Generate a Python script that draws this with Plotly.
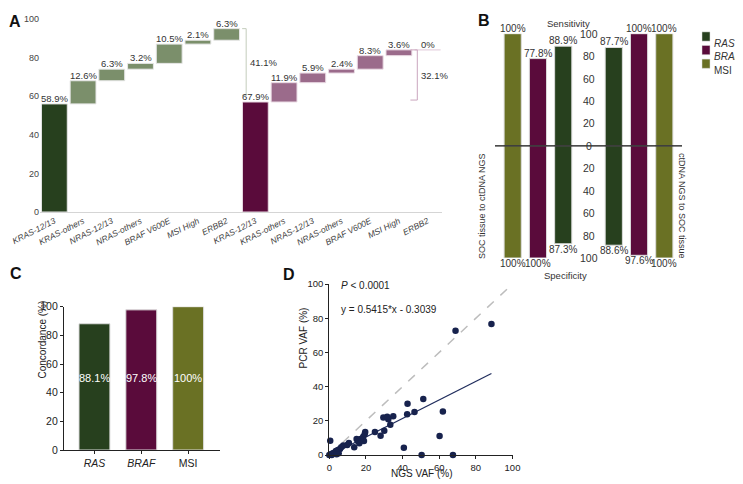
import plotly.graph_objects as go

# The page body keeps an 8px margin, so the figure is placed and sized to fit inside it
OFF = 8
W, H = 743 - OFF, 484 - OFF
FONT = "Arial, Liberation Sans, sans-serif"

def PX(x):
    return (x - OFF) / W

def PY(y):
    return 1 - (y - OFF) / H

# ---------------- Panel A data ----------------
a_categories = ["KRAS-12/13", "KRAS-others", "NRAS-12/13", "NRAS-others",
                "BRAF V600E", "MSI High", "ERBB2"]
a_tissue_counts = [56, 12, 6, 3, 10, 2, 6]
a_tissue_labels = ["58.9%", "12.6%", "6.3%", "3.2%", "10.5%", "2.1%", "6.3%"]
a_ctdna_counts = [57, 10, 5, 2, 7, 3, 0]
a_ctdna_labels = ["67.9%", "11.9%", "5.9%", "2.4%", "8.3%", "3.6%", "0%"]
a_bracket_labels = ["41.1%", "32.1%"]
a_yticks = [0, 20, 40, 60, 80, 100]

# ---------------- Panel B data ----------------
b_series = ["RAS", "BRAF", "MSI"]
b_left_order = ["MSI", "BRAF", "RAS"]
b_left_sensitivity = [100, 77.8, 88.9]
b_left_specificity = [100, 100, 87.3]
b_right_order = ["RAS", "BRAF", "MSI"]
b_right_sensitivity = [87.7, 100, 100]
b_right_specificity = [88.6, 97.6, 100]
b_axis_ticks = [100, 80, 60, 40, 20, 0, 20, 40, 60, 80, 100]

# ---------------- Panel C data ----------------
c_categories = ["RAS", "BRAF", "MSI"]
c_concordance = [88.1, 97.8, 100]

# ---------------- Panel D data ----------------
d_ngs_vaf = [0.5, 88.5, 68.9, 51.3, 42.7, 42.5, 46.5, 62.0, 60.2, 40.7, 50.4, 67.5,
             34.9, 32.2, 29.5, 31.6, 33.3, 30.0, 28.0, 24.9, 19.6, 19.3, 18.5, 18.9,
             17.1, 15.5, 14.9, 16.4, 13.6, 10.7, 9.8, 7.6, 6.5, 5.8, 4.7, 5.1, 3.6,
             2.2, 1.1, 0.0, 1.3, 4.0]
d_pcr_vaf = [8.4, 76.6, 72.7, 32.7, 30.0, 23.8, 25.1, 25.5, 11.1, 4.3, 0.0, 0.0,
             22.6, 20.9, 22.0, 22.4, 17.7, 14.2, 11.3, 13.5, 13.5, 12.1, 10.7, 8.2,
             9.4, 8.2, 9.4, 6.8, 4.5, 7.0, 5.8, 5.5, 4.5, 3.5, 2.9, 1.0, 2.3,
             1.2, 0.6, 0.0, 0.0, 0.4]
d_slope = 0.5415
d_intercept = -0.3039
d_ticks = [0, 20, 40, 60, 80, 100]

COL = {"RAS": "#27401e", "BRAF": "#5a0b3b", "MSI": "#6a7124"}
A_COL1 = ["#27401e"] + ["#7b8f6b"] * 6
A_COL2 = ["#5a0b3b"] + ["#9b6b8b"] * 6

fig = go.Figure()
ann = []
shapes = []

# ---------------- Panel A ----------------
def waterfall(counts):
    bases, tops = [], []
    run = 0
    for c in counts:
        bases.append(run)
        run += c
        tops.append(run)
    return bases, tops

b1, t1 = waterfall(a_tissue_counts)
b2, t2 = waterfall(a_ctdna_counts)
x1 = list(range(7))
x2 = list(range(7, 14))
fig.add_trace(go.Bar(x=x1, y=a_tissue_counts, base=b1, width=0.9,
                     marker=dict(color=A_COL1, line=dict(color="#e6e6e6", width=1)),
                     xaxis="x", yaxis="y", showlegend=False))
fig.add_trace(go.Bar(x=x2, y=a_ctdna_counts, base=b2, width=0.9,
                     marker=dict(color=A_COL2, line=dict(color="#eadbe4", width=1)),
                     xaxis="x", yaxis="y", showlegend=False))
for xs, tops, labels in ((x1, t1, a_tissue_labels), (x2, t2, a_ctdna_labels)):
    for x, t, lab in zip(xs, tops, labels):
        ann.append(dict(x=x, y=t, xref="x", yref="y", text=lab, showarrow=False,
                        yanchor="bottom", yshift=-2,
                        font=dict(family=FONT, size=9.5, color="#333")))

# brackets
br = [(6.68, t1[-1], 60.5, 0.14, "#c3ccbb", a_bracket_labels[0], 77.5),
      (12.64, t2[-1], 58.0, 0.24, "#caa6be", a_bracket_labels[1], 70.5)]
for bx, ytop, ybot, tick, col, lab, ylab in br:
    shapes.append(dict(type="line", xref="x", yref="y", x0=bx, x1=bx, y0=ytop, y1=ybot,
                       line=dict(color=col, width=1)))
    shapes.append(dict(type="line", xref="x", yref="y", x0=bx - tick, x1=bx, y0=ytop, y1=ytop,
                       line=dict(color=col, width=1)))
    shapes.append(dict(type="line", xref="x", yref="y", x0=bx - tick, x1=bx, y0=ybot, y1=ybot,
                       line=dict(color=col, width=1)))
    ann.append(dict(x=bx + 0.05, y=ylab, xref="x", yref="y", text=lab, showarrow=False,
                    xanchor="left", font=dict(family=FONT, size=9.5, color="#333")))

# ---------------- Panel B ----------------
def b_bars(order, slots, sens, spec):
    for name, s, v_up, v_dn in zip(order, slots, sens, spec):
        fig.add_trace(go.Bar(x=[s, s], y=[v_up, -v_dn], width=0.68,
                             marker=dict(color=COL[name], line=dict(color="#dcdcdc", width=1)),
                             xaxis="x2", yaxis="y2", showlegend=False))
        ann.append(dict(x=s, y=v_up, xref="x2", yref="y2", text=f"{v_up:g}%", showarrow=False,
                        yanchor="bottom", yshift=-2, font=dict(family=FONT, size=10, color="#333")))
        ann.append(dict(x=s, y=-v_dn, xref="x2", yref="y2", text=f"{v_dn:g}%", showarrow=False,
                        yanchor="top", yshift=2, font=dict(family=FONT, size=10, color="#333")))

b_bars(b_left_order, [0, 1, 2], b_left_sensitivity, b_left_specificity)
b_bars(b_right_order, [4, 5, 6], b_right_sensitivity, b_right_specificity)
for i, t in enumerate(b_axis_ticks):
    yv = t if i < 5 else (-t if i > 5 else 0)
    ann.append(dict(x=3, y=yv, xref="x2", yref="y2", text=str(t), showarrow=False,
                    font=dict(family=FONT, size=10.5, color="#333")))
shapes.append(dict(type="line", xref="x2", yref="y2", x0=-0.7, x1=6.7, y0=0, y1=0,
                   line=dict(color="#111", width=1.3), layer="above"))
ann.append(dict(x=PX(592), y=PY(16), xref="paper", yref="paper", text="Sensitivity",
                showarrow=False, font=dict(family=FONT, size=9.5, color="#333")))
ann.append(dict(x=PX(589), y=PY(275), xref="paper", yref="paper", text="Specificity",
                showarrow=False, font=dict(family=FONT, size=9.5, color="#333")))
ann.append(dict(x=PX(482), y=PY(151), xref="paper", yref="paper", text="SOC tissue to ctDNA NGS",
                textangle=-90, showarrow=False, font=dict(family=FONT, size=9, color="#333")))
ann.append(dict(x=PX(689), y=PY(151), xref="paper", yref="paper", text="ctDNA NGS to SOC tissue",
                textangle=90, showarrow=False, font=dict(family=FONT, size=9, color="#333")))
# legend
for i, name in enumerate(b_series):
    yc = 36.5 + i * 13.6
    shapes.append(dict(type="rect", xref="paper", yref="paper", x0=PX(702), x1=PX(710),
                       y0=PY(yc - 4.6), y1=PY(yc + 4.6), fillcolor=COL[name],
                       line=dict(color="#dcdcdc", width=0.5)))
    txt = name if name == "MSI" else f"<i>{name}</i>"
    ann.append(dict(x=PX(712.5), y=PY(yc), xref="paper", yref="paper", text=txt, xanchor="left",
                    showarrow=False, borderpad=0, font=dict(family=FONT, size=10, color="#333")))

# ---------------- Panel C ----------------
for i, (name, v) in enumerate(zip(c_categories, c_concordance)):
    fig.add_trace(go.Bar(x=[i], y=[v], width=0.66,
                         marker=dict(color=COL[name], line=dict(color="#dcdcdc", width=1)),
                         xaxis="x3", yaxis="y3", showlegend=False))
    ann.append(dict(x=i, y=50, xref="x3", yref="y3", text=f"{v:g}%", showarrow=False,
                    font=dict(family=FONT, size=11, color="white")))
ann.append(dict(x=PX(35), y=PY(380), xref="paper", yref="paper", text="Concordance (%)",
                textangle=-90, showarrow=False, borderpad=0,
                font=dict(family=FONT, size=10, color="#222")))

# ---------------- Panel D ----------------
fig.add_trace(go.Scatter(x=[0, 100], y=[0, 100], mode="lines",
                         line=dict(color="#bdbdbd", width=1.5, dash="dash"),
                         xaxis="x4", yaxis="y4", showlegend=False))
xmax = max(d_ngs_vaf)
fig.add_trace(go.Scatter(x=[0, xmax], y=[d_intercept, d_slope * xmax + d_intercept],
                         mode="lines", line=dict(color="#1f2c5c", width=1.2),
                         xaxis="x4", yaxis="y4", showlegend=False))
fig.add_trace(go.Scatter(x=d_ngs_vaf, y=d_pcr_vaf, mode="markers",
                         marker=dict(color="#17224d", size=6.5),
                         cliponaxis=False, xaxis="x4", yaxis="y4", showlegend=False))
ann.append(dict(x=5.5, y=99, xref="x4", yref="y4", text="<i>P</i> < 0.0001", xanchor="left",
                showarrow=False, font=dict(family=FONT, size=10, color="#222")))
ann.append(dict(x=5.5, y=85, xref="x4", yref="y4",
                text=f"y = {d_slope}*x - {abs(d_intercept)}", xanchor="left",
                showarrow=False, font=dict(family=FONT, size=10, color="#222")))
ann.append(dict(x=PX(421), y=PY(479.5), xref="paper", yref="paper", text="NGS VAF (%)",
                showarrow=False, borderpad=0, font=dict(family=FONT, size=10, color="#222")))
ann.append(dict(x=PX(303), y=PY(370), xref="paper", yref="paper", text="PCR VAF (%)",
                textangle=-90, showarrow=False, borderpad=0,
                font=dict(family=FONT, size=10, color="#222")))

# panel letters
for letter, lx, ly in (("A", 7, 11), ("B", 484, 10), ("C", 8, 273), ("D", 289, 274)):
    ann.append(dict(x=PX(lx), y=PY(ly), xref="paper", yref="paper", text=f"<b>{letter}</b>",
                    showarrow=False, font=dict(family=FONT, size=16, color="#111")))

tickfont_small = dict(family=FONT, size=9, color="#444")
axis_black = dict(showline=True, linecolor="#222", linewidth=1.3, ticks="outside",
                  ticklen=3, tickwidth=1.3, tickcolor="#222", showgrid=False, zeroline=False)

fig.update_layout(
    width=W, height=H, margin=dict(l=0, r=0, t=0, b=0, pad=0, autoexpand=False),
    paper_bgcolor="white", plot_bgcolor="white", barmode="overlay",
    font=dict(family=FONT, color="#333"),
    annotations=ann, shapes=shapes, showlegend=False,
    # A
    xaxis=dict(domain=[PX(40), PX(442)], range=[-0.5, 13.5], anchor="y",
               tickvals=list(range(14)),
               ticktext=[f"<i>{c}</i>" for c in a_categories * 2],
               tickangle=-27, tickfont=dict(family=FONT, size=8.5, color="#444"),
               showline=True, linecolor="#d5d5d5", linewidth=1, ticks="",
               showgrid=False, zeroline=False, fixedrange=True),
    yaxis=dict(domain=[PY(212), PY(19)], range=[0, 100], anchor="x",
               tickvals=a_yticks, tickfont=tickfont_small, showline=False,
               showgrid=False, zeroline=False, ticks=""),
    # B
    xaxis2=dict(domain=[PX(495), PX(682)], range=[-0.7, 6.7], anchor="y2", visible=False),
    yaxis2=dict(domain=[PY(258), PY(33.7)], range=[-100, 100], anchor="x2", visible=False),
    # C
    xaxis3=dict(domain=[PX(64), PX(220)], range=[-0.65, 2.68], anchor="y3",
                tickvals=[0, 1, 2],
                ticktext=[c if c == "MSI" else f"<i>{c}</i>" for c in c_categories],
                tickfont=dict(family=FONT, size=10.5, color="#222"), **axis_black),
    yaxis3=dict(domain=[PY(450), PY(306.7)], range=[0, 100], anchor="x3",
                tickvals=[0, 20, 40, 60, 80, 100],
                tickfont=dict(family=FONT, size=10.5, color="#222"), **axis_black),
    # D
    xaxis4=dict(domain=[PX(329.3), PX(512.5)], range=[0, 100], anchor="y4",
                tickvals=d_ticks, tickfont=dict(family=FONT, size=9.5, color="#222"),
                **axis_black),
    yaxis4=dict(domain=[PY(455), PY(284)], range=[0, 100], anchor="x4",
                tickvals=d_ticks, tickfont=dict(family=FONT, size=9.5, color="#222"),
                **axis_black),
)

fig.write_html("out.html")
